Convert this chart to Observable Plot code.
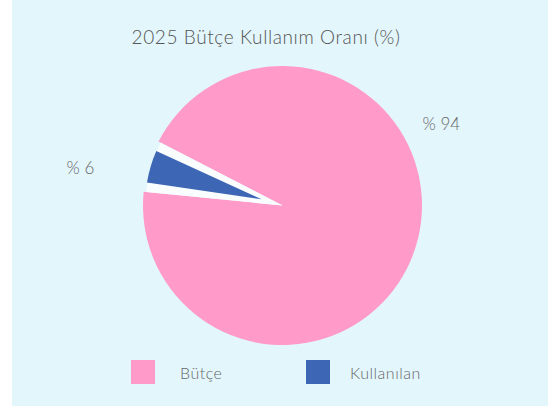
<!DOCTYPE html>
<html>
<head>
<meta charset="utf-8">
<script src="https://cdn.jsdelivr.net/npm/d3@7"></script>
<script src="https://cdn.jsdelivr.net/npm/@observablehq/plot@0.6"></script>
<style>
  html, body { margin: 0; padding: 0; background: #ffffff; }
  body { width: 548px; height: 414px; position: relative; overflow: hidden; font-family: Lato, "Open Sans", sans-serif; }
  #panel { position: absolute; left: 12px; top: 0; width: 536px; height: 406px; background: #e3f6fc; }
  #title { position: absolute; left: 0; top: 26px; width: 508px; text-align: center; font-size: 19px; line-height: 22px; color: #555; letter-spacing: 0.6px; font-weight: 300; }
  #chart { position: absolute; left: 0; top: 60px; }
  .leg { position: absolute; top: 360px; height: 24px; display: flex; align-items: center; font-size: 16px; color: #666; letter-spacing: 0.5px; font-weight: 300; }
  .leg .sw { width: 24px; height: 24px; margin-right: 25px; }
</style>
</head>
<body>
<div id="panel">
  <div id="title"></div>
  <div id="chart"></div>
</div>
<script>
// ---- data ----
const title = "2025 Bütçe Kullanım Oranı (%)";
const categories = ["Bütçe", "Kullanılan"];
const values = [94, 6];
const labels = ["% 94", "% 6"];
const colors = ["#ff9ac9", "#3d66b4"];
const labelAngleDeg = [62.8, 280.5];
const labelRadius = [178, 206];

// ---- layout ----
const W = 536, H = 290;
const cx = 270.5, cy = 145.5, R = 139.5;
const startDeg = -62.7;

document.getElementById("title").textContent = title;

const color = Plot.scale({color: {type: "ordinal", domain: categories, range: colors}});
const data = categories.map((c, i) => ({category: c, value: values[i], label: labels[i],
  ang: labelAngleDeg[i] * Math.PI / 180, r: labelRadius[i]}));

const pie = d3.pie().value(d => d.value).sort(null).startAngle(startDeg * Math.PI / 180).endAngle(startDeg * Math.PI / 180 + 2 * Math.PI);
const arcs = pie(data);

function pieMark(index, scales) {
  const x0 = scales.x(cx), y0 = scales.y(cy);
  const g = d3.create("svg:g").attr("transform", `translate(${x0},${y0})`);
  arcs.forEach((a, i) => {
    if (i === 0) {
      g.append("path").attr("d", d3.arc().innerRadius(0).outerRadius(R)(a)).attr("fill", color.apply(a.data.category));
    } else {
      // white separating wedge, then the exploded small slice
      g.append("path").attr("d", d3.arc().innerRadius(0).outerRadius(R - 2.5)(a)).attr("fill", "#fafdfe");
      const mid = (a.startAngle + a.endAngle) / 2;
      const off = 2;
      g.append("path")
        .attr("transform", `translate(${off * Math.sin(mid)},${-off * Math.cos(mid)})`)
        .attr("d", d3.arc().innerRadius(20).outerRadius(R - 4).padAngle(0.13).padRadius(R)(a))
        .attr("fill", color.apply(a.data.category));
    }
  });
  return g.node();
}

const chart = Plot.plot({
  width: W, height: H, margin: 0,
  x: {domain: [0, W], range: [0, W], axis: null},
  y: {domain: [0, H], range: [0, H], axis: null},
  style: {background: "transparent", overflow: "visible"},
  marks: [
    pieMark,
    Plot.text(data, {
      x: d => cx + d.r * Math.sin(d.ang),
      y: d => cy - d.r * Math.cos(d.ang),
      text: "label",
      fontSize: 17, fill: "#666", fontFamily: "Lato, sans-serif", fontWeight: 300
    })
  ]
});
document.getElementById("chart").appendChild(chart);

// legend
const legendLeft = [119, 294];
categories.forEach((c, i) => {
  const d = document.createElement("div");
  d.className = "leg";
  d.style.left = legendLeft[i] + "px";
  const sw = document.createElement("div");
  sw.className = "sw";
  sw.style.background = color.apply(c);
  if (i === 1) sw.style.marginRight = "20px";
  const t = document.createElement("span");
  t.textContent = c;
  d.appendChild(sw); d.appendChild(t);
  document.getElementById("panel").appendChild(d);
});
</script>
</body>
</html>
